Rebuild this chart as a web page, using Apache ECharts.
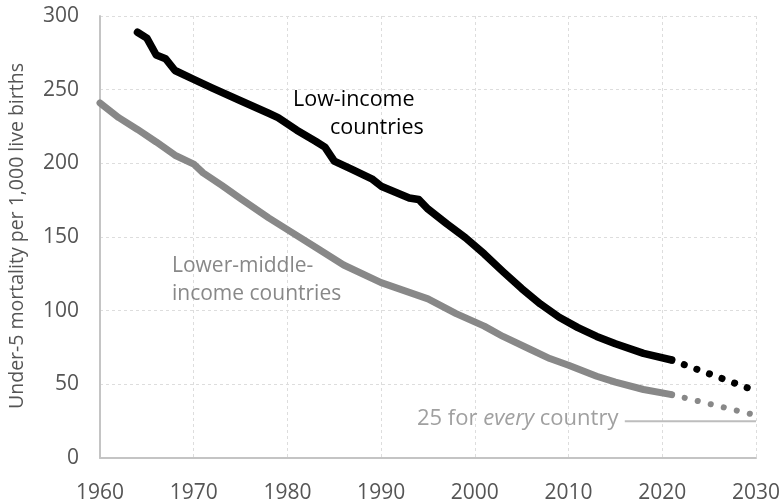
<!DOCTYPE html>
<html>
<head>
<meta charset="utf-8">
<script src="https://cdn.jsdelivr.net/npm/echarts@6/dist/echarts.min.js"></script>
<style>
html,body{margin:0;padding:0;background:#fff;}
#chart{width:783px;height:504px;}
</style>
</head>
<body>
<div id="chart"></div>
<script>
// Low-income countries (observed)
var lowYears = [1964,1965,1966,1967,1968,1970,1972,1975,1978,1979,1981,1983,1984,1985,1987,1989,1990,1993,1994,1995,1997,1999,2001,2003,2005,2007,2009,2011,2013,2015,2018,2021];
var lowVals  = [289,285,273.5,271,263,257,251,242.5,234,231,222.5,215,211,201.5,195.5,189.5,184.5,176.5,175.5,169,159,149.5,138.5,126.5,115,104.5,95.5,88.5,82.5,77.5,71,66.5];
// Low-income projection
var lowProjYears = [2021, 2030];
var lowProjVals  = [66.5, 45.5];

// Lower-middle-income countries (observed)
var midYears = [1960,1962,1964,1966,1968,1970,1971,1973,1975,1978,1980,1983,1986,1990,1995,1998,2001,2003,2006,2008,2010,2013,2015,2018,2021];
var midVals  = [241,231,223,214.5,205.5,199.5,193.5,185,176,163,155,143,131,119,108,98,89.5,82.5,73.5,67.5,63,55.5,51.5,46.5,43];
// Lower-middle-income projection
var midProjYears = [2021, 2030];
var midProjVals  = [43, 29];

// Target: 25 for every country
var targetYears = [2016, 2030];
var targetVals  = [25, 25];

// Axis ticks
var xTicks = {min: 1960, max: 2030, interval: 10};
var yTicks = {min: 0, max: 300, interval: 50};
var yTitle = 'Under-5 mortality per 1,000 live births';

function pairs(xs, ys) { return xs.map(function (x, i) { return [x, ys[i]]; }); }

var FONT = '"Open Sans", "Noto Sans", sans-serif';
var chart = echarts.init(document.getElementById('chart'), null, {renderer: 'canvas'});
chart.setOption({
  animation: false,
  backgroundColor: '#ffffff',
  grid: {left: 100, right: 27, top: 16, bottom: 43, containLabel: false},
  xAxis: {
    type: 'value', min: xTicks.min, max: xTicks.max, interval: xTicks.interval,
    axisLine: {show: true, lineStyle: {color: '#c4c4c4', width: 2}},
    axisTick: {show: false},
    axisLabel: {color: '#555', fontSize: 21, fontFamily: FONT, margin: 25, formatter: function (v) { return String(v); }},
    splitLine: {show: true, lineStyle: {color: '#dddddd', width: 1, type: [3, 3]}}
  },
  yAxis: {
    type: 'value', min: yTicks.min, max: yTicks.max, interval: yTicks.interval,
    axisLine: {show: true, lineStyle: {color: '#c4c4c4', width: 2}},
    axisTick: {show: false},
    axisLabel: {color: '#555', fontSize: 21, fontFamily: FONT, margin: 21},
    splitLine: {show: true, lineStyle: {color: '#dddddd', width: 1, type: [3, 3]}}
  },
  series: [
    {
      name: 'Lower-middle-income', type: 'line', data: pairs(midYears, midVals),
      showSymbol: false, symbol: 'none', z: 3,
      lineStyle: {color: '#888888', width: 7, cap: 'round', join: 'round'}
    },
    {
      name: 'Lower-middle-income projection', type: 'line', data: pairs(midProjYears, midProjVals),
      showSymbol: false, symbol: 'none', z: 3,
      lineStyle: {color: '#888888', width: 6, cap: 'round', type: [0.1, 13.3]}
    },
    {
      name: 'Low-income', type: 'line', data: pairs(lowYears, lowVals),
      showSymbol: false, symbol: 'none', z: 4,
      lineStyle: {color: '#000000', width: 7.5, cap: 'round', join: 'round'}
    },
    {
      name: 'Low-income projection', type: 'line', data: pairs(lowProjYears, lowProjVals),
      showSymbol: false, symbol: 'none', z: 4,
      lineStyle: {color: '#000000', width: 7, cap: 'round', type: [0.1, 13.3]}
    },
    {
      name: 'Target', type: 'line', data: pairs(targetYears, targetVals),
      showSymbol: false, symbol: 'none', z: 2,
      lineStyle: {color: '#bdbdbd', width: 2}
    }
  ],
  graphic: [
    {type: 'text', x: 17, y: 236, rotation: Math.PI / 2, z: 10,
     style: {text: yTitle, fill: '#555', font: '19.5px ' + FONT, align: 'center', verticalAlign: 'middle'}},
    {type: 'text', left: 293, top: 89, z: 10,
     style: {text: 'Low-income', fill: '#000', font: '21.5px ' + FONT}},
    {type: 'text', left: 330, top: 117, z: 10,
     style: {text: 'countries', fill: '#000', font: '21.5px ' + FONT}},
    {type: 'text', left: 172, top: 256, z: 10,
     style: {text: 'Lower-middle-', fill: '#888', font: '21px ' + FONT}},
    {type: 'text', left: 172, top: 284, z: 10,
     style: {text: 'income countries', fill: '#888', font: '21px ' + FONT}},
    {type: 'text', left: 417, top: 408, z: 10,
     style: {
       text: '{n|25 for }{i|every}{n| country}',
       rich: {
         n: {fill: '#a0a0a0', font: '22px ' + FONT},
         i: {fill: '#a0a0a0', font: 'italic 22px ' + FONT}
       }
     }}
  ]
});
</script>
</body>
</html>
